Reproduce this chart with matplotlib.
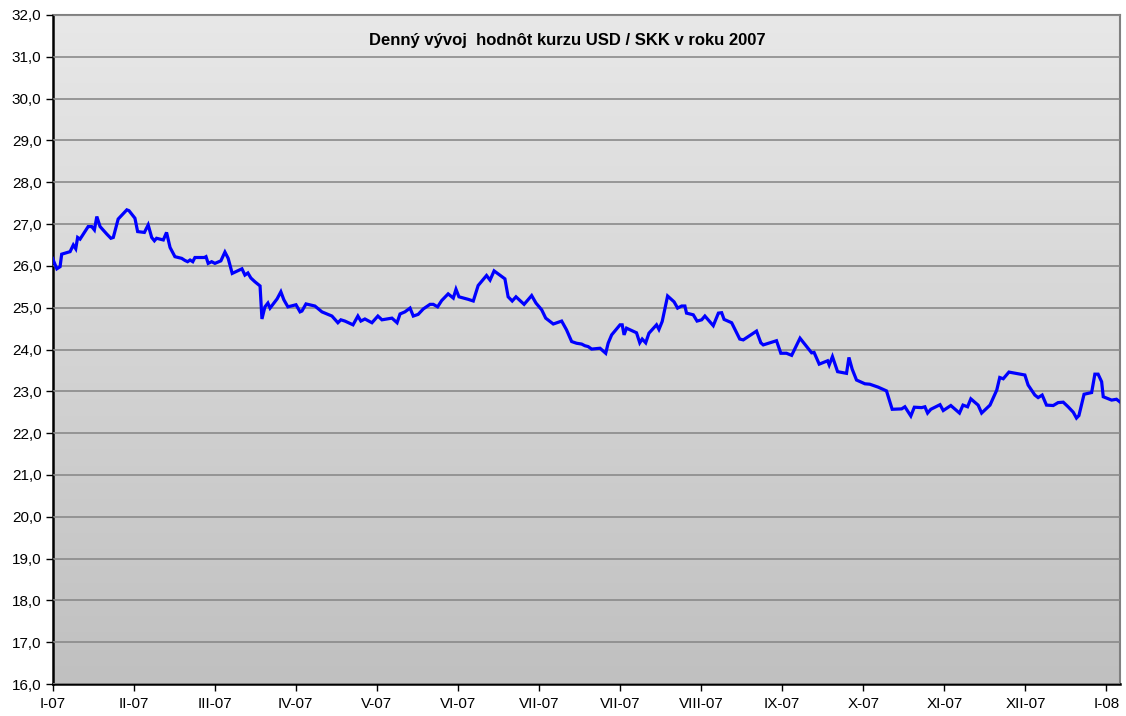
import numpy as np
import matplotlib
matplotlib.use("Agg")
import matplotlib.pyplot as plt
from matplotlib.ticker import FuncFormatter

# ====================================
# DATA
# ====================================

# position along the x axis, in days from the first tick (I-07)
days = [
    0, 1.6, 2.8, 3.4, 6.5, 7.7, 8.6, 9.3, 10.2, 13.2, 14.5, 15.5, 16.4, 17.6,
    20.1, 21.6, 22.5, 24.3, 27.5, 28.3, 30.5, 31.5, 34.0, 35.4, 36.7, 37.7,
    38.5, 41.0, 42.2, 43.5, 45.3, 47.8, 49.0, 50.0, 50.9, 51.9, 52.7, 56.2,
    56.8, 57.6, 58.9, 60.1, 62.3, 63.8, 65.0, 66.5, 70.1, 71.2, 72.3, 73.4,
    74.9, 76.8, 77.5, 78.6, 79.7, 80.5, 83.1, 84.5, 85.6, 87.1, 90.1, 91.6,
    92.3, 93.8, 97.1, 99.7, 103.4, 105.6, 106.7, 108.2, 111.2, 113.0, 114.1,
    115.6, 118.2, 120.4, 121.9, 125.6, 127.5, 128.6, 130.4, 132.3, 133.5,
    135.3, 137.2, 139.7, 140.9, 142.5, 144.0, 146.4, 148.3, 149.3, 150.4,
    153.8, 155.7, 157.5, 160.6, 161.9, 163.4, 167.4, 168.6, 170.1, 171.5,
    174.5, 177.3, 178.9, 181.0, 182.5, 185.3, 188.4, 190.2, 192.1, 193.9,
    195.8, 197.0, 198.2, 199.5, 202.6, 204.7, 205.6, 206.9, 210.0, 210.8,
    211.5, 212.4, 216.1, 217.3, 218.2, 219.5, 220.7, 223.5, 224.4, 225.6,
    227.6, 230.0, 231.3, 232.8, 234.0, 234.6, 237.1, 238.5, 240.2, 241.4,
    244.5, 246.4, 247.6, 248.5, 251.3, 254.3, 255.6, 260.5, 262.1, 263.0,
    265.5, 267.9, 269.5, 271.6, 273.5, 276.6, 280.9, 281.8, 283.7, 286.8,
    287.4, 288.6, 290.5, 293.8, 294.7, 295.9, 297.5, 300.6, 302.4, 305.5,
    308.6, 310.7, 314.2, 315.4, 317.6, 318.9, 321.6, 322.8, 323.8, 325.0,
    328.4, 329.6, 331.2, 332.4, 335.6, 336.9, 338.6, 339.8, 342.5, 343.8,
    346.9, 349.4, 350.5, 351.8, 353.9, 359.8, 361.0, 363.5, 364.7, 366.2,
    367.8, 370.3, 372.1, 374.0, 375.8, 377.7, 378.9, 379.8, 381.7, 384.5,
    385.7, 386.9, 388.2, 388.8, 391.9, 393.7, 394.9,
]

# USD / SKK rate
rate = [
    26.18, 25.93, 25.98, 26.28, 26.34, 26.50, 26.41, 26.68, 26.64, 26.94,
    26.94, 26.86, 27.18, 26.94, 26.76, 26.66, 26.68, 27.12, 27.34, 27.32,
    27.14, 26.82, 26.80, 26.98, 26.68, 26.60, 26.66, 26.62, 26.80, 26.44,
    26.22, 26.18, 26.13, 26.10, 26.14, 26.10, 26.20, 26.20, 26.22, 26.06,
    26.10, 26.06, 26.12, 26.33, 26.18, 25.82, 25.93, 25.78, 25.83, 25.71,
    25.62, 25.52, 24.73, 25.02, 25.11, 24.99, 25.21, 25.38, 25.19, 25.02,
    25.07, 24.90, 24.92, 25.09, 25.04, 24.90, 24.80, 24.64, 24.71, 24.68,
    24.59, 24.80, 24.68, 24.73, 24.64, 24.80, 24.71, 24.75, 24.64, 24.85,
    24.90, 24.99, 24.80, 24.84, 24.97, 25.08, 25.08, 25.02, 25.17, 25.33,
    25.23, 25.44, 25.26, 25.20, 25.16, 25.53, 25.77, 25.66, 25.88, 25.69,
    25.26, 25.16, 25.26, 25.08, 25.29, 25.11, 24.95, 24.75, 24.61, 24.68,
    24.47, 24.19, 24.15, 24.13, 24.09, 24.07, 24.01, 24.03, 23.91, 24.15,
    24.35, 24.59, 24.59, 24.35, 24.51, 24.40, 24.16, 24.25, 24.16, 24.39,
    24.59, 24.48, 24.67, 25.28, 25.14, 24.99, 25.04, 25.04, 24.87, 24.83,
    24.68, 24.71, 24.80, 24.57, 24.87, 24.88, 24.72, 24.64, 24.25, 24.23,
    24.44, 24.16, 24.11, 24.16, 24.21, 23.91, 23.91, 23.86, 24.27, 23.92,
    23.93, 23.65, 23.73, 23.63, 23.83, 23.47, 23.43, 23.81, 23.53, 23.27,
    23.18, 23.17, 23.10, 23.01, 22.57, 22.58, 22.63, 22.41, 22.62, 22.61,
    22.63, 22.48, 22.57, 22.68, 22.54, 22.61, 22.66, 22.48, 22.67, 22.63,
    22.82, 22.67, 22.48, 22.67, 23.03, 23.33, 23.30, 23.46, 23.39, 23.15,
    22.91, 22.85, 22.91, 22.67, 22.66, 22.73, 22.74, 22.63, 22.50, 22.36,
    22.42, 22.93, 22.97, 23.41, 23.41, 23.23, 22.87, 22.79, 22.81, 22.75,
]

month_labels = ["I-07", "II-07", "III-07", "IV-07", "V-07", "VI-07", "VII-07",
                "VII-07", "VIII-07", "IX-07", "X-07", "XI-07", "XII-07", "I-08"]
tick_step = 30

title = "Denný vývoj  hodnôt kurzu USD / SKK v roku 2007"

# ====================================
# FIGURE
# ====================================

plt.rcParams['font.family'] = ['Liberation Sans', 'DejaVu Sans']

fig = plt.figure(figsize=(11.26, 7.16), dpi=100)
ax = fig.add_axes([52.5 / 1126, 32 / 716, 1067.5 / 1126, 669 / 716])

# gray gradient background, light at the top
grad = np.linspace(0, 1, 256).reshape(-1, 1)
ax.imshow(grad, extent=[0, 1, 0, 1], transform=ax.transAxes, aspect='auto',
          cmap=matplotlib.colors.LinearSegmentedColormap.from_list(
              "bg", ["#e8e8e8", "#c0c0c0"]),
          zorder=0, origin='upper')

ax.set_ylim(16, 32)
ax.set_xlim(0, 395)
ax.set_yticks(np.arange(16, 32.1, 1))
ax.yaxis.set_major_formatter(FuncFormatter(lambda v, p: f"{v:.1f}".replace(".", ",")))
ax.set_xticks([i * tick_step for i in range(len(month_labels))])
ax.set_xticklabels(month_labels)

ax.grid(axis='y', color='#8a8a8a', linewidth=1.2, zorder=1)
ax.set_axisbelow(False)

ax.plot(days, rate, color='#0000ff', linewidth=2.3, zorder=3,
        solid_joinstyle='miter')

for side in ['left', 'bottom']:
    ax.spines[side].set_color('black')
    ax.spines[side].set_linewidth(1.8)
for side in ['top', 'right']:
    ax.spines[side].set_color('#808080')
    ax.spines[side].set_linewidth(1.5)

ax.tick_params(axis='both', direction='out', length=5, width=1,
               labelsize=11, colors='black')
ax.tick_params(axis='x', pad=4)
ax.tick_params(axis='y', pad=3)

ax.text(0.482, 0.962, title, transform=ax.transAxes, ha='center', va='center',
        fontsize=12, fontweight='bold')

fig.savefig("out.png", dpi=100)
